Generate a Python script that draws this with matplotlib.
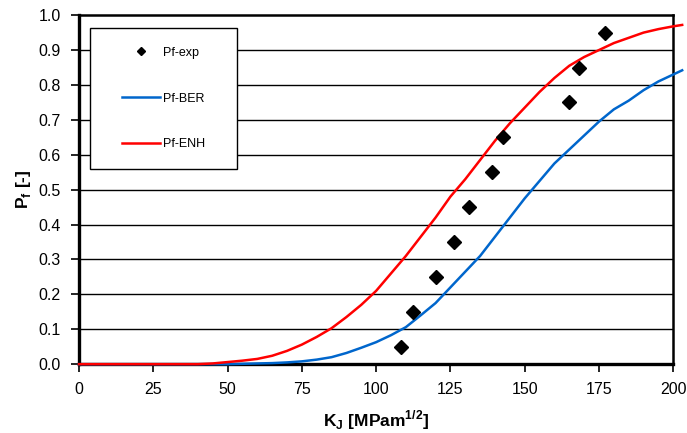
import numpy as np
import matplotlib
matplotlib.use("Agg")
import matplotlib.pyplot as plt
from matplotlib.lines import Line2D
from matplotlib.legend_handler import HandlerLine2D

plt.rcParams['font.family'] = ['Liberation Sans', 'DejaVu Sans']

# ----------- DATA -----------
k_exp = [108.3, 112.4, 120.2, 126.3, 131.3, 138.9, 142.6, 164.8, 168.2, 177.1]
pf_exp = [0.05, 0.15, 0.25, 0.35, 0.45, 0.55, 0.65, 0.75, 0.85, 0.95]

k_enh = [0, 40, 45, 50, 55, 60, 65, 70, 75, 80, 85, 90, 95, 100, 105, 110, 115,
         120, 125, 130, 135, 140, 145, 150, 155, 160, 165, 170, 175, 180, 185,
         190, 195, 200, 203]
pf_enh = [0, 0, 0.002, 0.006, 0.010, 0.015, 0.024, 0.038, 0.056, 0.078, 0.103,
          0.135, 0.17, 0.21, 0.26, 0.31, 0.365, 0.42, 0.48, 0.53, 0.585, 0.64,
          0.69, 0.735, 0.78, 0.82, 0.855, 0.88, 0.90, 0.92, 0.935, 0.95, 0.96,
          0.968, 0.972]

k_ber = [0, 50, 55, 60, 65, 70, 75, 80, 85, 90, 95, 100, 105, 110, 115, 120,
         125, 130, 135, 140, 145, 150, 155, 160, 165, 170, 175, 180, 185, 190,
         195, 200, 203]
pf_ber = [0, 0, 0.001, 0.002, 0.003, 0.005, 0.008, 0.013, 0.02, 0.032, 0.047,
          0.063, 0.083, 0.106, 0.14, 0.175, 0.22, 0.265, 0.31, 0.365, 0.42,
          0.475, 0.525, 0.575, 0.615, 0.655, 0.695, 0.73, 0.755, 0.785, 0.81,
          0.83, 0.842]

x_ticks = [0, 25, 50, 75, 100, 125, 150, 175, 200]
y_ticks = [0.0, 0.1, 0.2, 0.3, 0.4, 0.5, 0.6, 0.7, 0.8, 0.9, 1.0]

# ----------- FIGURE -----------
fig = plt.figure(figsize=(6.87, 4.33), dpi=100)
ax = fig.add_axes([0.115, 0.159, 0.865, 0.806])

for y in y_ticks[1:-1]:
    ax.axhline(y, color="black", lw=1.0, zorder=1)

ax.plot(k_exp, pf_exp, linestyle="none", marker="D", ms=7.5, color="black",
        label="Pf-exp", zorder=4)
ax.plot(k_ber, pf_ber, color="#0066CC", lw=1.8, label="Pf-BER", zorder=3,
        clip_on=False)
ax.plot(k_enh, pf_enh, color="#FF0000", lw=1.8, label="Pf-ENH", zorder=3,
        clip_on=False)

ax.set_xlim(0, 200)
ax.set_ylim(0, 1.0)
ax.set_xticks(x_ticks)
ax.set_yticks(y_ticks)
ax.set_yticklabels([f"{v:.1f}" for v in y_ticks])
ax.tick_params(axis="both", direction="out", length=6, width=1.2, labelsize=11.5,
               colors="black")
ax.tick_params(axis="x", pad=7)
ax.tick_params(axis="y", pad=7)

for s in ax.spines.values():
    s.set_linewidth(1.8)
    s.set_color("black")
ax.spines["left"].set_linewidth(2.4)
ax.spines["bottom"].set_linewidth(2.4)

ax.set_xlabel("K$_{\\mathregular{J}}$ [MPam$^{\\mathregular{1/2}}$]",
              fontsize=12.5, fontweight="bold", labelpad=8)
ax.set_ylabel("P$_{\\mathregular{f}}$ [-]", fontsize=12.5, fontweight="bold",
              labelpad=4)

leg = ax.legend(loc="upper left", bbox_to_anchor=(0.0185, 0.5, 0.2475, 0.463),
                mode="expand", fontsize=9, frameon=True, fancybox=False,
                edgecolor="black", framealpha=1, borderpad=1.5,
                labelspacing=2.7, handlelength=4.1, handletextpad=0.22,
                markerscale=0.55, borderaxespad=0,
                handler_map={Line2D: HandlerLine2D(xpad=1.05)})
leg.get_frame().set_linewidth(1.0)

fig.savefig("out.png", dpi=100)
